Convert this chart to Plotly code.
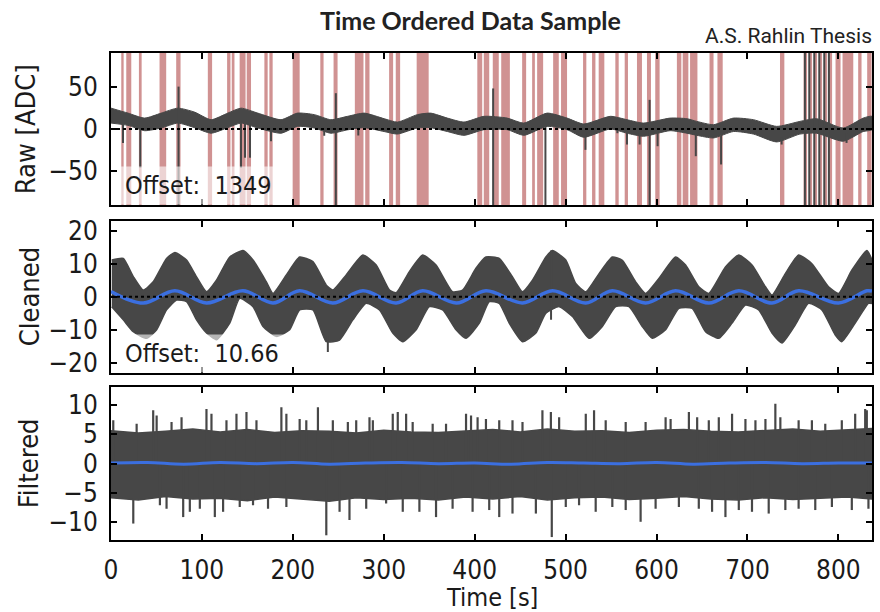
import plotly.graph_objects as go
from plotly.subplots import make_subplots

# ---------------- data ----------------
# Raw panel: envelope of the dark band
raw_t  = [0, 18.7, 37, 55.2, 73.5, 91.9, 110.1, 128.4, 143, 161.4, 187, 205, 223.6, 241.8,
          260.2, 278.5, 300.4, 315, 337, 351.6, 370, 388.2, 410.2, 435.8, 454, 479.7, 501.6,
          520, 549.2, 567.5, 585.8, 615, 633.4, 644.3, 662.7, 684.6, 706.6, 732.2, 757.7,
          776, 805.4, 827.3, 837]
raw_hi = [24.7, 18.8, 12.9, 18.8, 24.7, 20, 11, 18.8, 24.7, 18.8, 11, 18.8, 17, 11,
          15, 18.8, 12.2, 8.2, 17, 18.8, 12.9, 8.2, 15, 12.9, 7, 18.8, 12.9,
          5.9, 15, 11, 7, 12.9, 12.2, 9, 5.1, 12.9, 11, 3.1, 9,
          12.2, 1.2, 12.9, 15]
raw_lo = [7, 4.3, -2, 1.2, 7, 1.6, -5, 1.6, 7, 1.2, -5, 3.1, 1.2, -5,
          -1, 1.6, -3, -6, 1.2, 1.6, -3, -7.5, -0.8, -0.8, -7.5, 3.1, -0.8,
          -9.8, 0, -5, -8.6, -2, -5, -7.5, -10.6, -3, -6, -15.3, -6,
          -5, -14.5, -3, -0.8]

# Raw panel: glitches (time, low end, high end)
raw_spike_t  = [13.2, 32.2, 74.3, 143, 147.4, 152.9, 176, 234.5, 247.3, 272, 420.3, 477.8,
                521.8, 557, 567.5, 581.4, 592.4, 601.2, 643.2, 671, 737.6,
                763.2, 768, 773.5, 779, 784.5, 789.6, 809]
raw_spike_lo = [-16.5, -45.9, -90, -45.9, -34, -34, -14.5, -8, -90, -7.7, -90, -90,
                -24.7, -5, -18.4, -18.4, -90, -20.4, -32.2, -42, -18.4,
                -90, -90, -90, -90, -90, -90, -16.5]
raw_spike_hi = [8, 0, 50.2, 7, 7, 5, 0, 2, 42.4, 2, 48, 3,
                -5, 0, -3, -5, 34.5, -5, -5, -8, -10,
                90, 90, 90, 90, 90, 90, -5]

# Raw panel: flagged intervals (start, end) in seconds
flag_start = [11.3, 16.8, 30.7, 53.4, 71.7, 106.5, 127.7, 132.8, 141.5, 149.3, 168.7, 174.2,
              199.8, 230.2, 244.8, 268.2, 279.6, 305.9, 313.2, 336.2, 402.9, 410, 419.9,
              429.2, 452.2, 463.2, 468.7, 486.3, 495, 519.2, 529.1, 536.4, 554.7, 565,
              578.5, 589.5, 598.6, 622.4, 628.8, 636.9, 658.3, 667, 735.8, 761.8, 767.8,
              773.3, 778.8, 784.3, 789.8, 796.9, 804.6, 821.8, 831.7]
flag_end   = [13.9, 22.3, 33.7, 60.7, 76.5, 111.2, 131.4, 135.8, 148, 154, 172.3, 177.8,
              207.5, 233.8, 249.2, 277.7, 284.3, 310.3, 318, 349.4, 408.3, 416, 426.5,
              438.7, 456.6, 466.2, 475.3, 492.5, 501.6, 522.8, 532.8, 542.6, 558.4, 568.6,
              584, 593.9, 603.4, 627.3, 635, 645, 662.7, 672.8, 740.6, 765.6, 771.1,
              776.6, 782.1, 787.6, 793.1, 802.4, 816.4, 825.5, 836.5]

# Cleaned panel: upper and lower envelope
cln_hi_t = [0.8, 13.5, 24.5, 35.5, 46.4, 61.1, 70.3, 83.1, 94.1, 105.1, 116, 130.6, 145.2,
            156.2, 170.9, 178.2, 192.9, 207.5, 222.1, 236.8, 244, 258.7, 277, 291.7, 306.3,
            313.6, 328.2, 342.8, 357.5, 375.7, 386.7, 401.4, 412.4, 427, 441.6, 452.6,
            463.6, 478.3, 485.5, 500.2, 511.2, 522.2, 536.8, 551.4, 562.4, 577.1, 588,
            602.6, 621, 632, 646.5, 657.5, 675.8, 690.5, 705, 719.8, 727, 741.7, 756.3,
            770.9, 789.2, 800.2, 814.8, 831.3, 837]
cln_hi   = [11.1, 11.6, 6.1, 2.0, 4.5, 11.6, 13.4, 11.1, 6, 1.5, 5, 12, 14,
            11.1, 4.5, 1, 6.6, 12, 10.6, 3.5, 2, 6.6, 12.6, 9.6, 2,
            1.2, 7.6, 12.6, 9.6, 1.5, 2, 8.6, 12, 11.6, 6, 1.5,
            5, 12, 14, 11.1, 4, 1.5, 7, 12, 11, 4.5, 1,
            5.5, 12, 9.6, 3, 1, 9, 12.6, 9.6, 3, 0.5, 7, 12.6,
            10, 3, 1, 8, 14, 11]
cln_lo_t = [0.8, 13.5, 24.5, 39.2, 50.2, 61.1, 72.1, 83.1, 94.1, 105.1, 116, 130.6, 141.6,
            156.2, 167.2, 181.9, 196.5, 207.5, 222.1, 236.8, 251.4, 266, 280.7, 295.3,
            309.9, 320.9, 335.6, 350.2, 364.8, 379.5, 390.5, 405.1, 416.1, 427, 438,
            452.6, 467.3, 478.3, 492.9, 507.5, 525.8, 540.4, 555.1, 569.7, 584.3, 595.3,
            610, 624.6, 639.2, 653.9, 668.5, 683.1, 697.8, 712.4, 727, 738, 752.7, 767.3,
            781.9, 796.6, 803.8, 818.5, 833.1, 837]
cln_lo   = [-3, -7, -10.6, -12.6, -10, -4, -1, -1.5, -7, -11, -13, -8, -0.5,
            -3, -9, -12, -10, -4, -4, -13.6, -13.1, -7, -2, -4,
            -11, -13.6, -10, -3, -4, -10, -12.6, -8, -1.5, -2, -8,
            -13.6, -11, -5, -3, -6, -12.6, -9, -3, -3, -9, -12.6,
            -10, -3.5, -3.5, -10.6, -12.6, -8, -2.5, -4, -11, -14, -8.5, -2,
            -4, -11.6, -13.6, -8, -2, -2]
cln_spike_t  = [238.5, 484.0]
cln_spike_lo = [-16.7, -7]
cln_spike_hi = [-12, 14]

# Cleaned panel: smoothed (blue) curve
cln_blue_t = [0, 35.5, 70.3, 105.1, 145.2, 178.2, 207.5, 244, 277, 313.6, 342.8, 380, 412.4,
              452.6, 485.5, 522.2, 551.4, 588, 621, 657.5, 690.5, 727, 756.3, 800.2, 831.3, 837]
cln_blue   = [1.6, -1.9, 1.8, -1.9, 1.8, -1.9, 1.8, -1.9, 1.8, -1.9, 1.8, -1.9, 1.8,
              -1.9, 1.8, -1.9, 1.8, -1.9, 1.8, -1.9, 1.8, -1.9, 1.8, -1.9, 1.8, 1.7]

# Filtered panel: body of the noise band
filt_t  = [0, 30, 60, 90, 120, 150, 180, 210, 240, 270, 300, 330, 360, 390, 420, 450, 480,
           510, 540, 570, 600, 630, 660, 690, 720, 750, 780, 810, 837]
filt_hi = [5.6, 5.2, 5.5, 5.9, 5.4, 5.8, 5.3, 5.6, 5.5, 5.2, 5.7, 5.4, 5.3, 5.6, 5.8, 5.4,
           5.9, 5.5, 5.6, 5.3, 5.7, 5.8, 5.5, 5.4, 5.6, 5.9, 5.5, 5.7, 6.0]
filt_lo = [-5.8, -6.2, -5.6, -6.0, -5.9, -6.3, -5.7, -6.0, -6.4, -5.8, -6.1, -5.9, -6.2,
           -5.7, -6.0, -5.6, -6.2, -5.8, -5.7, -6.1, -5.9, -5.6, -6.0, -6.2, -5.8, -6.1,
           -5.9, -5.7, -6.0]
# Filtered panel: excursions above / below the band
filt_up_t = [2.5, 28.2, 46.4, 50.2, 66.6, 77.6, 105, 110.5, 127, 138, 149, 160, 187.4, 192.9,
             207.5, 214.8, 227.6, 244, 260.5, 269.7, 284.3, 288, 309.9, 315.4, 324.6, 331.8,
             353.8, 368.5, 390.5, 396, 403.2, 412.4, 427, 441.6, 452.6, 474.5, 483.8,
             492.9, 522.2, 531.3, 544.1, 566.1, 588, 610, 615.5, 635.6, 644.7, 657.5,
             668.5, 683.1, 697.8, 708.8, 719.8, 730.7, 736.2, 756.3, 770.9, 785.6, 803.8,
             818.5, 829.5, 831.3]
filt_up   = [7.4, 6.8, 9.1, 8.2, 7.1, 7.9, 9.3, 8.5, 7.4, 8.5, 8.8, 7.4, 9.6, 8.5,
             7.6, 7.4, 9.6, 7.4, 7.1, 7.4, 7.9, 7.4, 8.5, 8.8, 8.5, 7.1,
             6.8, 6.8, 8.5, 8.2, 7.9, 7.6, 7.4, 7.4, 7.1, 9.1, 8.8,
             7.9, 8.5, 9.1, 7.4, 7.1, 7.1, 7.9, 7.6, 8.8, 7.9, 7.4,
             7.9, 8.5, 7.6, 7.4, 7.6, 10.2, 7.9, 7.4, 7.4, 6.8, 7.4,
             8.5, 9.3, 9.1]
filt_dn_t = [24.5, 53.8, 61.1, 79.4, 86.7, 97.7, 114.2, 123.3, 141.6, 156.2, 172.7, 192.9,
             236.8, 251.4, 262.3, 280.7, 302.6, 320.9, 339.2, 357.5, 375.7, 397.7, 416,
             427, 441.6, 467.3, 484.8, 500.2, 514.8, 533.1, 551.4, 566.1, 582.5, 599,
             624.6, 646.5, 661.1, 675.8, 690.5, 705, 723.4, 741.7, 756.3, 774.6, 792.9,
             814.8, 833.1]
filt_dn   = [-10.2, -7.1, -7.7, -9.1, -8.2, -7.7, -9.1, -8.2, -7.4, -7.1, -7.7, -7.4,
             -12.2, -8.2, -9.6, -7.7, -6.8, -8.2, -8.2, -9.1, -7.7, -8.2, -7.9,
             -9.1, -8.5, -8.5, -12.5, -7.4, -7.1, -8.2, -7.4, -7.9, -9.9, -7.7,
             -7.4, -7.7, -8.2, -9.1, -7.9, -8.2, -8.5, -7.9, -7.7, -7.9, -7.4,
             -7.9, -7.7]
# Filtered panel: smoothed (blue) curve
filt_blue_t = [0, 40, 80, 120, 160, 200, 240, 280, 320, 360, 400, 440, 480, 520, 560, 600,
               640, 680, 720, 760, 800, 837]
filt_blue   = [0.1, 0.2, -0.1, 0.2, 0.0, 0.2, -0.1, 0.1, 0.2, 0.0, 0.1, -0.1, 0.2, 0.1,
               0.0, 0.2, -0.1, 0.1, 0.2, 0.0, 0.1, 0.1]

offset_labels = ["Offset:\u00a0\u00a01349", "Offset:\u00a0\u00a010.66"]
panel_titles = ["Raw [ADC]", "Cleaned", "Filtered"]
x_ticks = [0, 100, 200, 300, 400, 500, 600, 700, 800]
T_MAX = 837

# ---------------- styling ----------------
GRAY = "#474747"
BLUE = "#3b6fe0"
FLAG = "#d09292"
TICKFONT = "DejaVu Sans Condensed, DejaVu Sans, sans-serif"


def band(t_hi, hi, t_lo, lo):
    return list(t_hi) + list(t_lo)[::-1], list(hi) + list(lo)[::-1]


def segments(ts, los, his):
    xs, ys = [], []
    for t, lo, hi in zip(ts, los, his):
        xs += [t, t, None]
        ys += [lo, hi, None]
    return xs, ys


fig = make_subplots(rows=3, cols=1, shared_xaxes=True)

# ---- raw ----
bx, by = band(raw_t, raw_hi, raw_t, raw_lo)
fig.add_trace(go.Scatter(x=bx, y=by, fill="toself", fillcolor=GRAY, mode="lines",
                         line=dict(color=GRAY, width=1, shape="spline", smoothing=0.6),
                         hoverinfo="skip"), row=1, col=1)
sx, sy = segments(raw_spike_t, raw_spike_lo, raw_spike_hi)
fig.add_trace(go.Scatter(x=sx, y=sy, mode="lines", line=dict(color=GRAY, width=2),
                         hoverinfo="skip"), row=1, col=1)

# ---- cleaned ----
bx, by = band(cln_hi_t, cln_hi, cln_lo_t, cln_lo)
fig.add_trace(go.Scatter(x=bx, y=by, fill="toself", fillcolor=GRAY, mode="lines",
                         line=dict(color=GRAY, width=1.5, shape="spline", smoothing=0.5),
                         hoverinfo="skip"), row=2, col=1)
sx, sy = segments(cln_spike_t, cln_spike_lo, cln_spike_hi)
fig.add_trace(go.Scatter(x=sx, y=sy, mode="lines", line=dict(color=GRAY, width=2),
                         hoverinfo="skip"), row=2, col=1)
fig.add_trace(go.Scatter(x=cln_blue_t, y=cln_blue, mode="lines",
                         line=dict(color=BLUE, width=3.5, shape="spline"),
                         hoverinfo="skip"), row=2, col=1)

# ---- filtered ----
bx, by = band(filt_t, filt_hi, filt_t, filt_lo)
fig.add_trace(go.Scatter(x=bx, y=by, fill="toself", fillcolor=GRAY, mode="lines",
                         line=dict(color=GRAY, width=1.5), hoverinfo="skip"), row=3, col=1)
sx, sy = segments(filt_up_t, [0] * len(filt_up_t), filt_up)
fig.add_trace(go.Scatter(x=sx, y=sy, mode="lines", line=dict(color=GRAY, width=2.2),
                         hoverinfo="skip"), row=3, col=1)
sx, sy = segments(filt_dn_t, [0] * len(filt_dn_t), filt_dn)
fig.add_trace(go.Scatter(x=sx, y=sy, mode="lines", line=dict(color=GRAY, width=2.2),
                         hoverinfo="skip"), row=3, col=1)
fig.add_trace(go.Scatter(x=filt_blue_t, y=filt_blue, mode="lines",
                         line=dict(color=BLUE, width=3, shape="spline"),
                         hoverinfo="skip"), row=3, col=1)

# flagged intervals (added after traces so the subplot is not empty)
for s, e in zip(flag_start, flag_end):
    fig.add_vrect(x0=s, x1=e, fillcolor=FLAG, opacity=1, line_width=0, layer="below",
                  row=1, col=1)

# zero reference lines
for r in (1, 2):
    fig.add_hline(y=0, line=dict(color="black", width=2, dash="dot"), row=r, col=1)

# ---- axes ----
axis_common = dict(showline=True, linecolor="black", linewidth=2, mirror="ticks",
                   ticks="inside", ticklen=6, tickwidth=1.5, tickcolor="black",
                   showgrid=False, zeroline=False,
                   tickfont=dict(family=TICKFONT, size=26, color="#1a1a1a"))
for r in (1, 2, 3):
    fig.update_xaxes(range=[0, T_MAX], tickvals=x_ticks, showticklabels=(r == 3),
                     ticklabelstandoff=6, row=r, col=1, **axis_common)
fig.update_yaxes(range=[-90, 90], tickvals=[-50, 0, 50], row=1, col=1,
                 ticklabelstandoff=6, **axis_common)
fig.update_yaxes(range=[-23, 23], tickvals=[-20, -10, 0, 10, 20], row=2, col=1,
                 ticklabelstandoff=6, **axis_common)
fig.update_yaxes(range=[-13, 13], tickvals=[-10, -5, 0, 5, 10], row=3, col=1,
                 ticklabelstandoff=6, **axis_common)

fig.update_layout(
    width=880, height=612,
    margin=dict(l=111, r=6, t=53, b=72),
    plot_bgcolor="white", paper_bgcolor="white",
    showlegend=False,
    yaxis=dict(domain=[0.6879, 1.0]),
    yaxis2=dict(domain=[0.3435, 0.6556]),
    yaxis3=dict(domain=[0.0, 0.3136]),
)

# offset labels
for i, txt in enumerate(offset_labels):
    yref = "y domain" if i == 0 else "y2 domain"
    fig.add_annotation(xref="x domain", yref=yref, x=0.012, y=0.0, xanchor="left",
                       yanchor="bottom", text=txt, showarrow=False,
                       bgcolor="rgba(255,255,255,0.6)", borderpad=4,
                       font=dict(family=TICKFONT, size=25, color="#1a1a1a"))

# y labels (rotated)
label_y = [(540 - 129) / 487, (540 - 297) / 487, (540 - 463) / 487]
label_x = [(25 - 111) / 763, (29 - 111) / 763, (29 - 111) / 763]
for txt, xx, yy in zip(panel_titles, label_x, label_y):
    fig.add_annotation(xref="paper", yref="paper", x=xx, y=yy, text=txt, textangle=-90,
                       showarrow=False, xanchor="center", yanchor="middle",
                       font=dict(family=TICKFONT, size=27, color="#1a1a1a"))

# x label
fig.add_annotation(xref="paper", yref="paper", x=0.5, y=(540 - 597) / 487, text="Time [s]",
                   showarrow=False, xanchor="center", yanchor="middle",
                   font=dict(family=TICKFONT, size=25, color="#1a1a1a"))

# title & credit
fig.add_annotation(xref="paper", yref="paper", x=(471 - 111) / 763, y=(540 - 20) / 487,
                   text="<b>Time Ordered Data Sample</b>", showarrow=False,
                   xanchor="center", yanchor="middle",
                   font=dict(family="Lato, sans-serif", size=25, color="#222222"))
fig.add_annotation(xref="paper", yref="paper", x=(876 - 111) / 763, y=(540 - 36) / 487,
                   text="A.S. Rahlin Thesis", showarrow=False,
                   xanchor="right", yanchor="middle",
                   font=dict(family="Roboto, sans-serif", size=21, color="#222222"))

fig.write_html("out.html", config={"displayModeBar": False},
               post_script="document.body.style.margin='0';")
